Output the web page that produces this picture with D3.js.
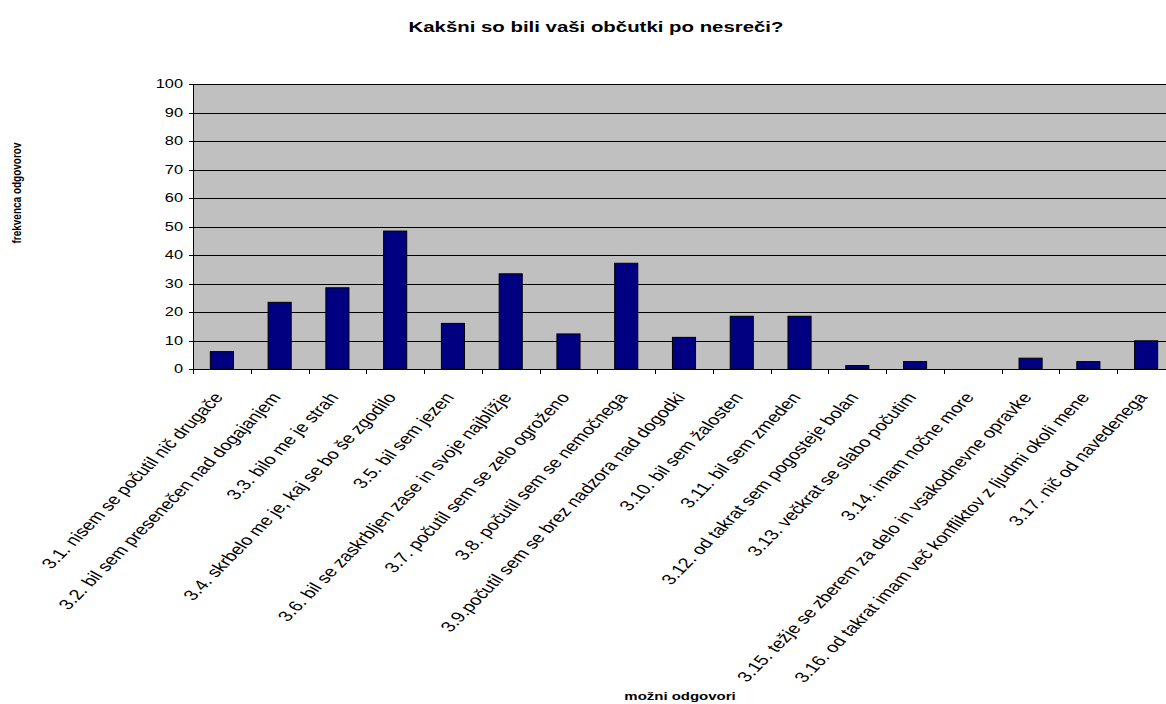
<!DOCTYPE html>
<html>
<head>
<meta charset="utf-8">
<script src="https://cdn.jsdelivr.net/npm/d3@7"></script>
<style>
  html, body { margin: 0; padding: 0; background: #fff; }
  svg { display: block; font-family: "Liberation Sans", Arial, sans-serif; }
</style>
</head>
<body>
<svg id="chart" width="1166" height="704"></svg>
<script>
const chartTitle = "Kakšni so bili vaši občutki po nesreči?";
const yAxisTitle = "frekvenca odgovorov";
const xAxisTitle = "možni odgovori";

const categories = [
  "3.1. nisem se počutil nič drugače",
  "3.2. bil sem presenečen nad dogajanjem",
  "3.3. bilo me je strah",
  "3.4. skrbelo me je, kaj se bo še zgodilo",
  "3.5. bil sem jezen",
  "3.6. bil se zaskrbljen zase in svoje najbližje",
  "3.7. počutil sem se zelo ogroženo",
  "3.8. počutil sem se nemočnega",
  "3.9.počutil sem se brez nadzora nad dogodki",
  "3.10. bil sem žalosten",
  "3.11. bil sem zmeden",
  "3.12. od takrat sem pogosteje bolan",
  "3.13. večkrat se slabo počutim",
  "3.14. imam nočne more",
  "3.15. težje se zberem za delo in vsakodnevne opravke",
  "3.16. od takrat imam več konfliktov z ljudmi okoli mene",
  "3.17. nič od navedenega"
];
const values = [6.1, 23.4, 28.5, 48.4, 16.0, 33.4, 12.3, 37.1, 11.1, 18.5, 18.5, 1.2, 2.6, 0, 3.8, 2.6, 9.9];
const yTicks = [0, 10, 20, 30, 40, 50, 60, 70, 80, 90, 100];

const SX = 1.36; // horizontal stretch of the reference image
const ANG = Math.atan(SX) * 180 / Math.PI;

const svg = d3.select("#chart");
const plot = { left: 193, right: 1175, top: 84, bottom: 369 };

const x = d3.scaleBand().domain(categories).range([plot.left, plot.right])
  .paddingInner(0.6).paddingOuter(0.3);
const y = d3.scaleLinear().domain([0, 100]).range([plot.bottom, plot.top]);

// plot background
svg.append("rect")
  .attr("x", plot.left).attr("y", plot.top)
  .attr("width", plot.right - plot.left).attr("height", plot.bottom - plot.top)
  .attr("fill", "#c0c0c0");

// gridlines
svg.append("g").selectAll("line").data(yTicks.filter(d => d > 0)).join("line")
  .attr("x1", plot.left).attr("x2", plot.right)
  .attr("y1", d => Math.round(y(d)) + 0.5).attr("y2", d => Math.round(y(d)) + 0.5)
  .attr("stroke", "#000").attr("stroke-width", 1);

// bars
svg.append("g").selectAll("rect").data(values).join("rect")
  .attr("x", (d, i) => x(categories[i]))
  .attr("y", d => y(d))
  .attr("width", x.bandwidth())
  .attr("height", d => y(0) - y(d))
  .attr("fill", d => d > 0 ? "#000080" : "none")
  .attr("stroke", d => d > 0 ? "#000" : "none")
  .attr("stroke-width", 1);

// y axis line and ticks
const yAxisG = svg.append("g");
yAxisG.append("line")
  .attr("x1", plot.left + 0.5).attr("x2", plot.left + 0.5)
  .attr("y1", plot.top).attr("y2", plot.bottom + 5)
  .attr("stroke", "#000");
yAxisG.selectAll("line.tick").data(yTicks).join("line").attr("class", "tick")
  .attr("x1", plot.left - 4).attr("x2", plot.left)
  .attr("y1", d => Math.round(y(d)) + 0.5).attr("y2", d => Math.round(y(d)) + 0.5)
  .attr("stroke", "#000");
yAxisG.selectAll("text").data(yTicks).join("text")
  .attr("transform", d => `translate(${plot.left - 10},${y(d)}) scale(${SX},1)`)
  .attr("text-anchor", "end").attr("dy", "0.35em")
  .attr("font-size", 12).attr("fill", "#000")
  .text(d => d);

// x axis line and ticks at category boundaries
const xAxisG = svg.append("g");
xAxisG.append("line")
  .attr("x1", plot.left).attr("x2", plot.right)
  .attr("y1", plot.bottom + 0.5).attr("y2", plot.bottom + 0.5)
  .attr("stroke", "#000");
const step = x.step();
const x0 = x(categories[0]) - x.paddingOuter() * step;
xAxisG.selectAll("line.tick").data(d3.range(categories.length + 1)).join("line").attr("class", "tick")
  .attr("x1", i => Math.round(x0 + i * step) + 0.5).attr("x2", i => Math.round(x0 + i * step) + 0.5)
  .attr("y1", plot.bottom).attr("y2", plot.bottom + 5)
  .attr("stroke", "#000");

// category labels
xAxisG.selectAll("text").data(categories).join("text")
  .attr("transform", d => `translate(${x(d) + x.bandwidth() / 2 + 2},${plot.bottom + 28.5}) scale(${SX},1) rotate(${-ANG})`)
  .attr("text-anchor", "end")
  .attr("font-size", 14.7).attr("fill", "#000")
  .text(d => d);

// titles
svg.append("text")
  .attr("transform", `translate(596,32) scale(${SX},1)`)
  .attr("text-anchor", "middle").attr("font-weight", "bold").attr("font-size", 15)
  .text(chartTitle);

svg.append("text")
  .attr("transform", `translate(21,193) scale(${SX},1) rotate(-90)`)
  .attr("text-anchor", "middle").attr("font-weight", "bold").attr("font-size", 10)
  .text(yAxisTitle);

svg.append("text")
  .attr("transform", `translate(680,700) scale(${SX},1)`)
  .attr("text-anchor", "middle").attr("font-weight", "bold").attr("font-size", 11)
  .text(xAxisTitle);
</script>
</body>
</html>
